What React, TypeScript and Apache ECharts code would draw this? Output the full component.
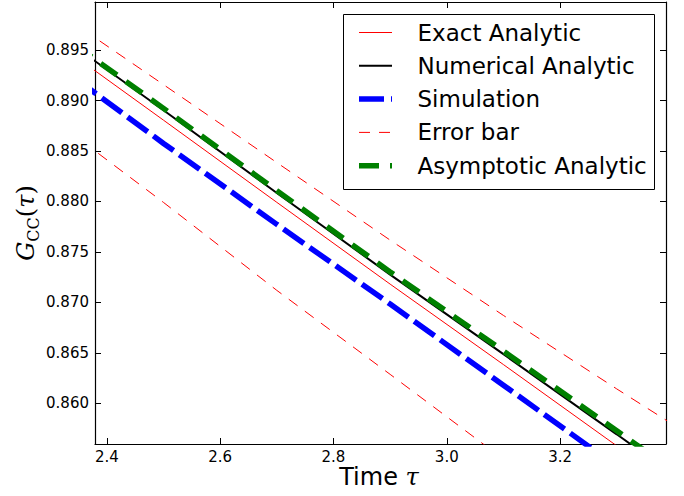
import React, { useEffect, useRef } from "react";
import * as echarts from "echarts";

const timeValues = [2.3, 2.5, 2.7, 2.9, 3.1, 3.3, 3.5];
const exactAnalytic = [0.89615, 0.88805, 0.87991, 0.87181, 0.86384, 0.85579, 0.84769];
const numericalAnalytic = [0.89709, 0.88903, 0.88084, 0.87275, 0.86487, 0.85693, 0.84893];
const simulation = [0.89401, 0.88575, 0.87773, 0.86984, 0.8618, 0.85374, 0.8457];
const errorUpper = [0.89926, 0.89157, 0.88385, 0.87617, 0.86871, 0.86143, 0.85432];
const errorLower = [0.88834, 0.8799, 0.87119, 0.86287, 0.85447, 0.84607, 0.83767];
const asymptoticAnalytic = [0.89725, 0.88922, 0.88107, 0.87302, 0.86518, 0.85728, 0.84935];

const xTicks = [2.4, 2.6, 2.8, 3.0, 3.2];
const yTicks = [0.86, 0.865, 0.87, 0.875, 0.88, 0.885, 0.89, 0.895];
const xMin = 2.379;
const xMax = 3.387;
const yMin = 0.85597;
const yMax = 0.89976;

const legendNames = ["Exact Analytic", "Numerical Analytic", "Simulation", "Error bar", "Asymptotic Analytic"];

const FONT = "DejaVu Sans";

const pairs = (ys: number[]) => timeValues.map((x, i) => [x, ys[i]]);

export default function App() {
  const ref = useRef<HTMLDivElement>(null);
  useEffect(() => {
    if (!ref.current) return;
    const chart = echarts.init(ref.current, null, { renderer: "svg" });
    const axisLine = { show: true, onZero: false, lineStyle: { color: "#000", width: 1.2 } };
    const tick = (vals: number[]) => ({
      show: true,
      inside: true,
      length: 6,
      customValues: vals,
      lineStyle: { color: "#000", width: 1 },
    });
    const lineSeries = (name: string, ys: number[], color: string, width: number, type: any) => ({
      type: "line",
      name,
      data: pairs(ys),
      showSymbol: false,
      symbol: "none",
      clip: true,
      lineStyle: { color, width, type, cap: "butt" },
      emphasis: { disabled: true },
    });

    const legendRows = [
      { color: "#ff0000", width: 1, dash: null },
      { color: "#000000", width: 2, dash: null },
      { color: "#0000ff", width: 5.5, dash: [25, 7] },
      { color: "#ff0000", width: 1, dash: [11, 9] },
      { color: "#008000", width: 5.5, dash: [20, 11] },
    ];
    const legendEls: any[] = [
      {
        type: "rect",
        shape: { x: 343.5, y: 14.5, width: 311, height: 175 },
        style: { fill: "#fff", stroke: "#000", lineWidth: 1 },
        z: 100,
      },
    ];
    legendRows.forEach((r, i) => {
      const y = 32.5 + i * 33.3;
      legendEls.push({
        type: "line",
        shape: { x1: 359, y1: y, x2: 392, y2: y },
        style: { stroke: r.color, lineWidth: r.width, lineDash: r.dash || undefined, lineCap: "butt" },
        z: 101,
      });
      legendEls.push({
        type: "text",
        x: 417.5,
        y: y,
        style: {
          text: legendNames[i],
          font: `23px "${FONT}"`,
          fill: "#000",
          verticalAlign: "middle",
          align: "left",
        },
        z: 101,
      });
    });

    chart.setOption({
      animation: false,
      grid: { left: 95, right: 18, top: 2, bottom: 52, containLabel: false },
      xAxis: [
        {
          type: "value",
          min: xMin,
          max: xMax,
          position: "bottom",
          axisLine,
          axisTick: tick(xTicks),
          axisLabel: {
            customValues: xTicks,
            formatter: (v: number) => v.toFixed(1),
            fontFamily: FONT,
            fontSize: 15,
            color: "#000",
            margin: 5,
          },
          splitLine: { show: false },
        },
        {
          type: "value",
          min: xMin,
          max: xMax,
          position: "top",
          axisLine,
          axisTick: tick(xTicks),
          axisLabel: { show: false, customValues: xTicks },
          splitLine: { show: false },
        },
      ],
      yAxis: [
        {
          type: "value",
          min: yMin,
          max: yMax,
          position: "left",
          axisLine,
          axisTick: tick(yTicks),
          axisLabel: {
            customValues: yTicks,
            formatter: (v: number) => v.toFixed(3),
            fontFamily: FONT,
            fontSize: 15,
            color: "#000",
            margin: 6,
          },
          splitLine: { show: false },
        },
        {
          type: "value",
          min: yMin,
          max: yMax,
          position: "right",
          axisLine,
          axisTick: tick(yTicks),
          axisLabel: { show: false, customValues: yTicks },
          splitLine: { show: false },
        },
      ],
      series: [
        lineSeries("Exact Analytic", exactAnalytic, "#ff0000", 1, "solid"),
        lineSeries("Numerical Analytic", numericalAnalytic, "#000000", 2, "solid"),
        lineSeries("Simulation", simulation, "#0000ff", 5.5, [25, 7]),
        lineSeries("Error bar", errorUpper, "#ff0000", 1, [11, 9]),
        lineSeries("Error bar (lower)", errorLower, "#ff0000", 1, [11, 9]),
        lineSeries("Asymptotic Analytic", asymptoticAnalytic, "#008000", 5.5, [20, 11]),
      ],
      graphic: [
        ...legendEls,
        {
          type: "text",
          x: 379,
          y: 477,
          style: {
            text: "{a|Time }{t|τ}",
            align: "center",
            verticalAlign: "middle",
            rich: {
              a: { fontFamily: FONT, fontSize: 24, fill: "#000" },
              t: { fontFamily: "DejaVu Serif", fontStyle: "italic", fontSize: 24, fill: "#000" },
            },
          },
          z: 100,
        },
        {
          type: "text",
          x: 26,
          y: 223,
          rotation: Math.PI / 2,
          style: {
            text: "{g|G}{s|CC}{p|(}{t|τ}{p|)}",
            align: "center",
            verticalAlign: "middle",
            rich: {
              g: { fontFamily: "DejaVu Serif", fontStyle: "italic", fontSize: 24, fill: "#000", lineHeight: 30 },
              s: { fontFamily: "DejaVu Serif", fontSize: 16, fill: "#000", verticalAlign: "bottom", lineHeight: 30, padding: [8, 0, 0, 0] },
              p: { fontFamily: "DejaVu Serif", fontSize: 24, fill: "#000", lineHeight: 30 },
              t: { fontFamily: "DejaVu Serif", fontStyle: "italic", fontSize: 24, fill: "#000", lineHeight: 30 },
            },
          },
          z: 100,
        },
      ],
    });
    return () => chart.dispose();
  }, []);
  return (
    <div
      ref={ref}
      style={{ position: "absolute", left: 0, top: 0, width: 684, height: 496 }}
    />
  );
}
